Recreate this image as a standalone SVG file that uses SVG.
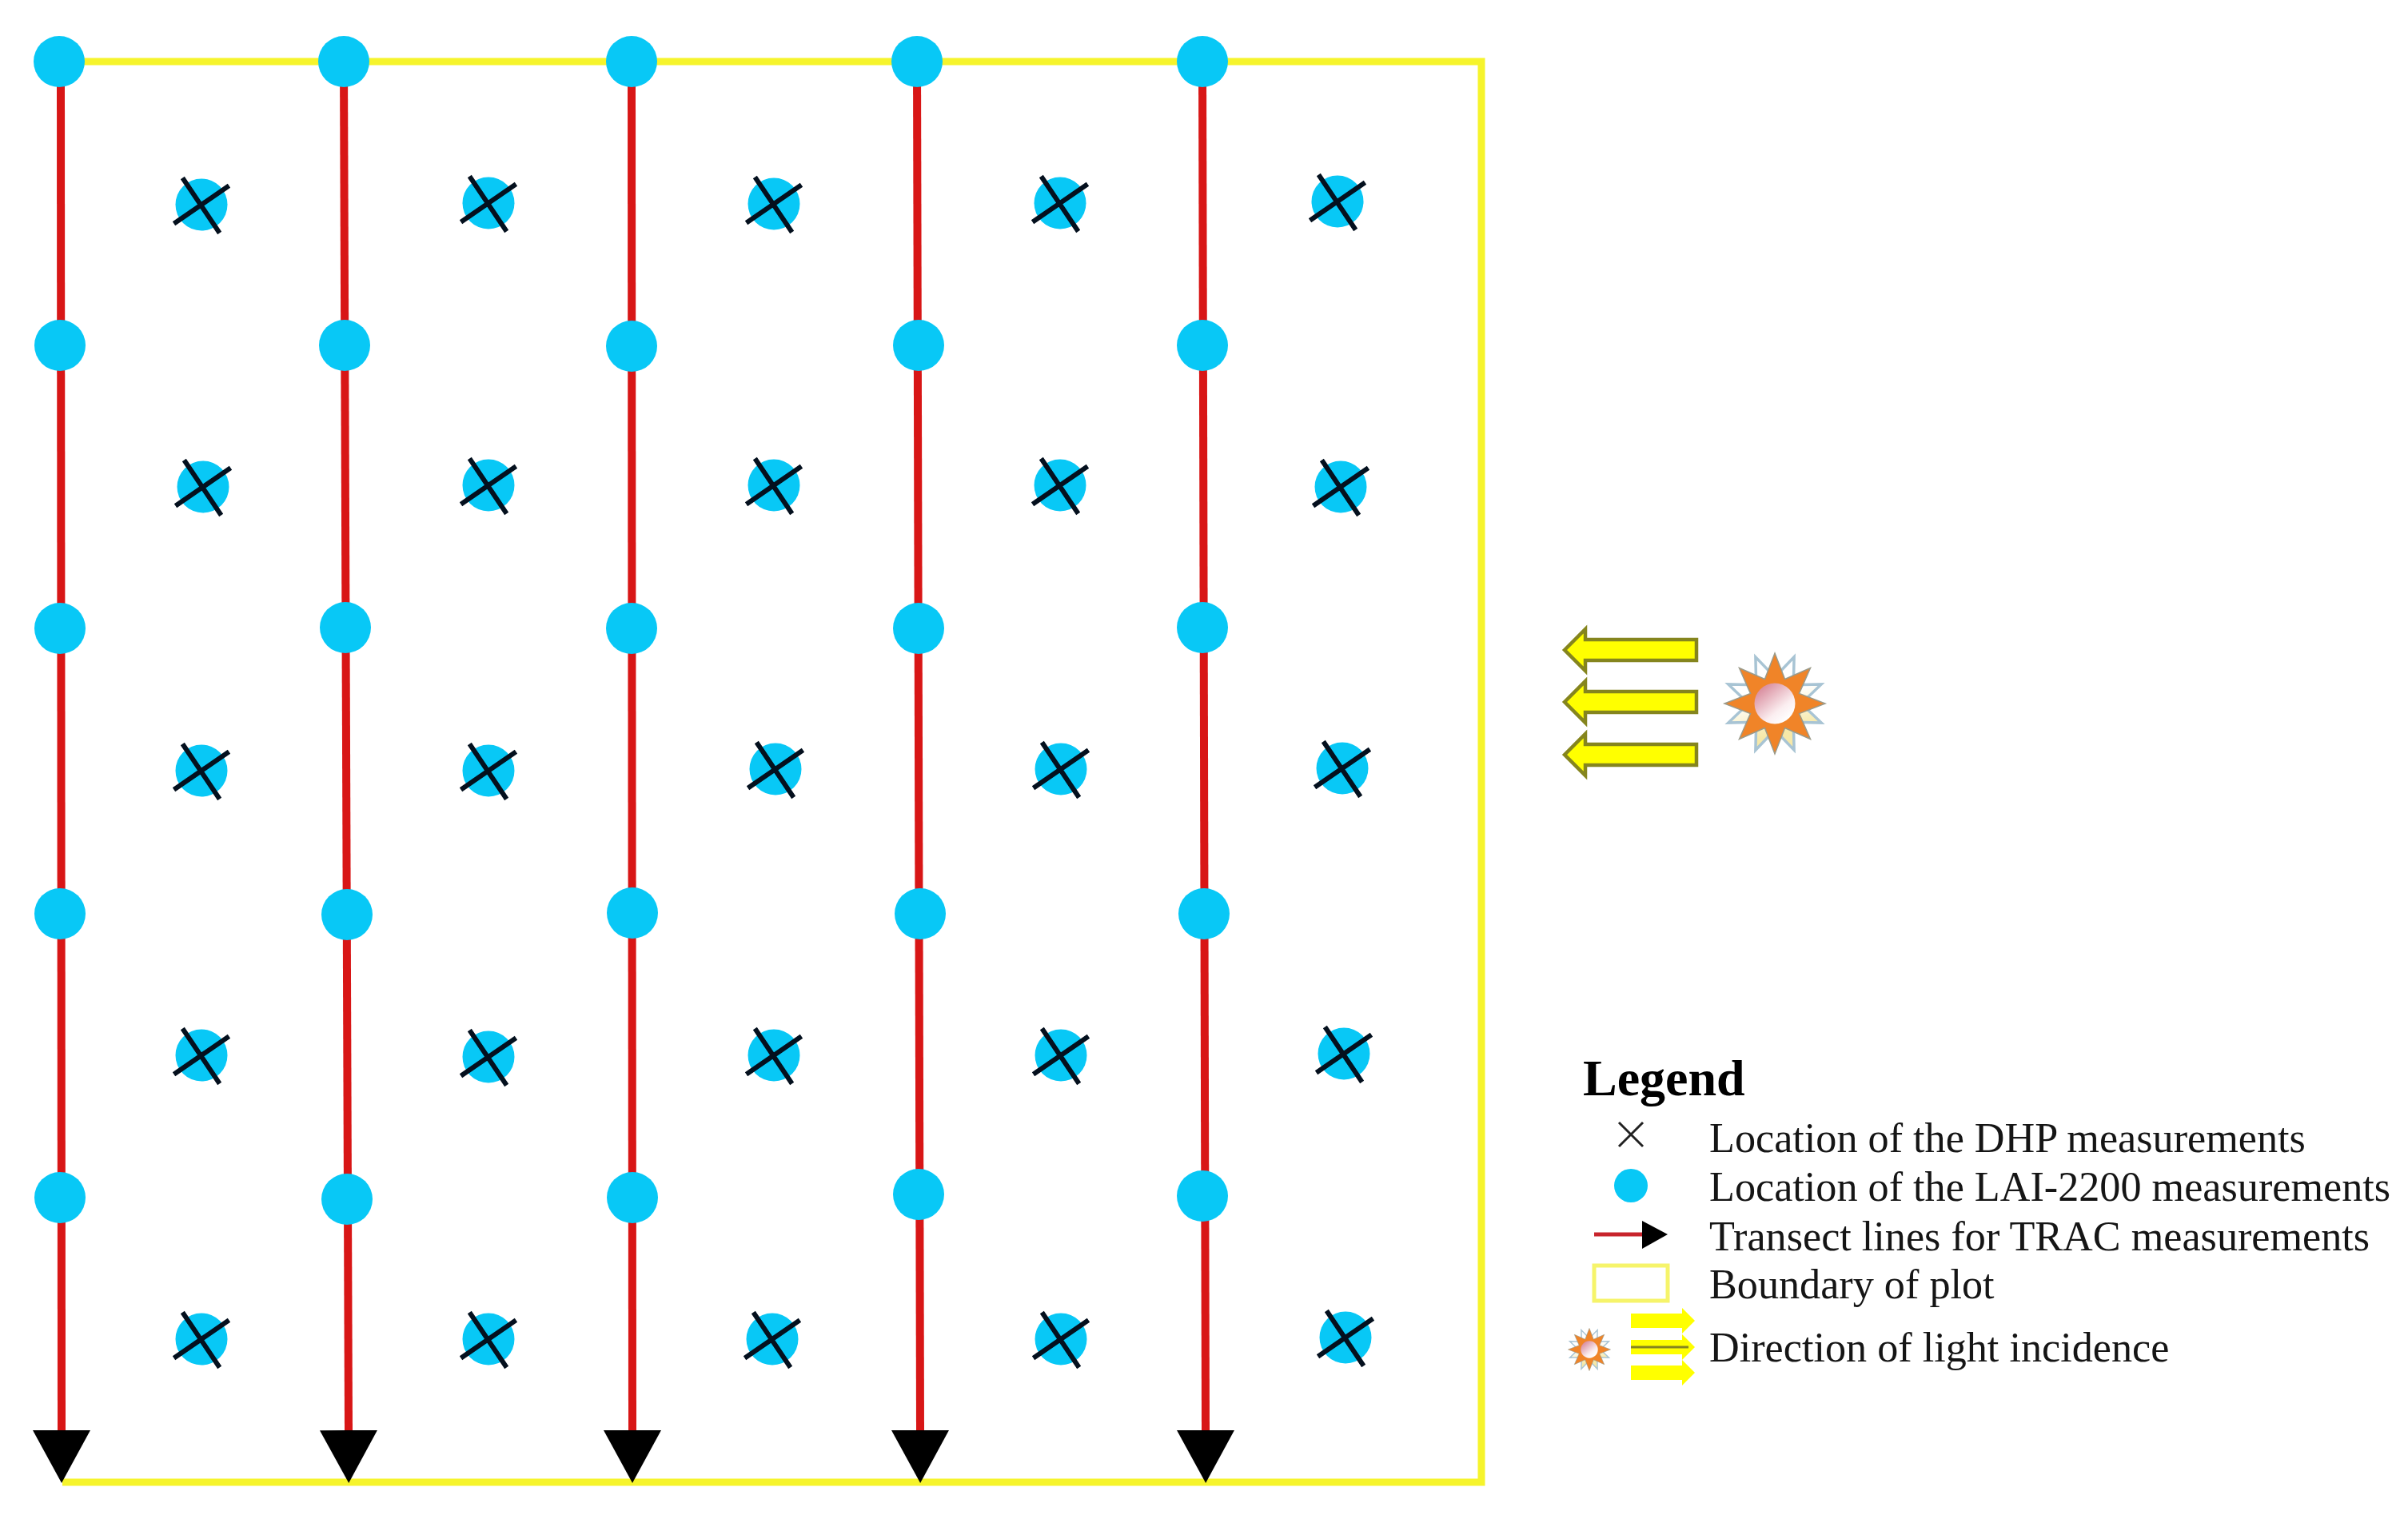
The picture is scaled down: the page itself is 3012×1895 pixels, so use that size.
<svg xmlns="http://www.w3.org/2000/svg" width="3012" height="1895" viewBox="0 0 3012 1895">
<style>
.dot{fill:#08c8f6}
.x{stroke:#04101e;stroke-width:6;fill:none;stroke-linecap:square}
.tr{stroke:#d81616;stroke-width:10;fill:none}
.bd{stroke:#f6f42c;stroke-width:9;fill:none}
.ar{fill:#ffff00;stroke:#85851e;stroke-width:4.5}
.t{font-family:"Liberation Serif","Times New Roman",serif;font-size:52.2px;fill:#151515}
.h{font-family:"Liberation Serif","Times New Roman",serif;font-size:64px;font-weight:bold;fill:#000}
</style>
<defs>
<marker id="head" markerUnits="userSpaceOnUse" markerWidth="68" markerHeight="74" refX="0" refY="37" orient="auto" viewBox="0 0 68 74"><path d="M0 1L66 37L0 73Z" fill="#000"/></marker>
<linearGradient id="disk" x1="0.15" y1="0.1" x2="0.8" y2="0.9"><stop offset="0" stop-color="#d88a9c"/><stop offset="0.7" stop-color="#fbeef0"/><stop offset="1" stop-color="#fff"/></linearGradient>
<linearGradient id="back" x1="0.2" y1="0.1" x2="0.8" y2="0.9"><stop offset="0.4" stop-color="#fff"/><stop offset="0.8" stop-color="#f6e8a8"/></linearGradient>
<g id="cell"><circle class="dot" r="32.5"/><path class="x" d="M-22-31L21 33M-32 22L32-22"/></g>
<circle id="pt" class="dot" r="32"/>
<path id="la" class="ar" d="M0 0L26-26V-13H165V13H26V26Z"/>
<g id="sunshape">
<polygon transform="rotate(22.5)" fill="url(#back)" stroke="#a8c4d4" stroke-width="3.5" points="0,-63 12.6,-30.5 44.5,-44.5 30.5,-12.6 63,0 30.5,12.6 44.5,44.5 12.6,30.5 0,63 -12.6,30.5 -44.5,44.5 -30.5,12.6 -63,0 -30.5,-12.6 -44.5,-44.5 -12.6,-30.5"/>
<polygon fill="#f08428" stroke="#9a9a8a" stroke-width="1.5" points="0,-63 12.6,-30.5 44.5,-44.5 30.5,-12.6 63,0 30.5,12.6 44.5,44.5 12.6,30.5 0,63 -12.6,30.5 -44.5,44.5 -30.5,12.6 -63,0 -30.5,-12.6 -44.5,-44.5 -12.6,-30.5"/>
<circle r="25.5" fill="url(#disk)"/>
</g>
</defs>
<rect width="3012" height="1895" fill="#fff"/>
<g id="connectors">
<path id="boundary" class="bd" d="M76 77H1853V1854H78"/>
<line class="tr" x1="76" y1="77" x2="77" y2="1789" marker-end="url(#head)"/>
<line class="tr" x1="430" y1="77" x2="436" y2="1789" marker-end="url(#head)"/>
<line class="tr" x1="790" y1="77" x2="791" y2="1789" marker-end="url(#head)"/>
<line class="tr" x1="1147" y1="77" x2="1151" y2="1789" marker-end="url(#head)"/>
<line class="tr" x1="1504" y1="77" x2="1508" y2="1789" marker-end="url(#head)"/>
</g>
<g id="lai-points">
<use href="#pt" x="74" y="77"/><use href="#pt" x="430" y="77"/><use href="#pt" x="790" y="77"/><use href="#pt" x="1147" y="77"/><use href="#pt" x="1504" y="77"/>
<use href="#pt" x="75" y="432"/><use href="#pt" x="431" y="432"/><use href="#pt" x="790" y="433"/><use href="#pt" x="1149" y="432"/><use href="#pt" x="1504" y="432"/>
<use href="#pt" x="75" y="786"/><use href="#pt" x="432" y="785"/><use href="#pt" x="790" y="786"/><use href="#pt" x="1149" y="786"/><use href="#pt" x="1504" y="785"/>
<use href="#pt" x="75" y="1143"/><use href="#pt" x="434" y="1144"/><use href="#pt" x="791" y="1142"/><use href="#pt" x="1151" y="1143"/><use href="#pt" x="1506" y="1143"/>
<use href="#pt" x="75" y="1498"/><use href="#pt" x="434" y="1500"/><use href="#pt" x="791" y="1498"/><use href="#pt" x="1149" y="1494"/><use href="#pt" x="1504" y="1496"/>
</g>
<g id="dhp-points">
<use href="#cell" x="252" y="256"/><use href="#cell" x="611" y="254"/><use href="#cell" x="968" y="255"/><use href="#cell" x="1326" y="254"/><use href="#cell" x="1673" y="252"/>
<use href="#cell" x="254" y="609"/><use href="#cell" x="611" y="607"/><use href="#cell" x="968" y="607"/><use href="#cell" x="1326" y="607"/><use href="#cell" x="1677" y="609"/>
<use href="#cell" x="252" y="964"/><use href="#cell" x="611" y="964"/><use href="#cell" x="970" y="962"/><use href="#cell" x="1327" y="962"/><use href="#cell" x="1679" y="961"/>
<use href="#cell" x="252" y="1320"/><use href="#cell" x="611" y="1322"/><use href="#cell" x="968" y="1320"/><use href="#cell" x="1327" y="1320"/><use href="#cell" x="1681" y="1318"/>
<use href="#cell" x="252" y="1675"/><use href="#cell" x="611" y="1675"/><use href="#cell" x="966" y="1675"/><use href="#cell" x="1327" y="1675"/><use href="#cell" x="1683" y="1673"/>
</g>
<g id="light-arrows">
<use href="#la" x="1957" y="813"/><use href="#la" x="1957" y="878"/><use href="#la" x="1957" y="944"/>
</g>
<g id="sun"><use href="#sunshape" transform="translate(2220 880)"/></g>
<g id="legend">
<text class="h" x="1980" y="1370">Legend</text>
<g id="legend-dhp"><path d="M2025 1404L2055 1434M2055 1404L2025 1434" stroke="#222" stroke-width="3" fill="none"/><text class="t" x="2138" y="1441">Location of the DHP measurements</text></g>
<g id="legend-lai"><ellipse class="dot" cx="2040" cy="1483" rx="21" ry="21"/><text class="t" x="2138" y="1502">Location of the LAI-2200 measurements</text></g>
<g id="legend-trac"><line x1="1994" y1="1544" x2="2056" y2="1544" stroke="#c8242c" stroke-width="5"/><path d="M2054 1527L2086 1544L2054 1562Z" fill="#000"/><text class="t" x="2138" y="1564">Transect lines for TRAC measurements</text></g>
<g id="legend-boundary"><rect x="1994" y="1583" width="92" height="44" fill="none" stroke="#f6f46a" stroke-width="5"/><text class="t" x="2138" y="1624">Boundary of plot</text></g>
<g id="legend-light"><use href="#sunshape" transform="translate(1988 1688) scale(.42)"/>
<path fill="#ffff00" d="M2040 1643H2104V1636L2120 1652L2104 1668V1661H2040Z"/>
<path fill="#ffff00" d="M2040 1676H2104V1669L2120 1685L2104 1701V1694H2040Z"/>
<path stroke="#85851e" stroke-width="3" d="M2040 1685H2112"/>
<path fill="#ffff00" d="M2040 1708H2104V1701L2120 1717L2104 1733V1726H2040Z"/>
<text class="t" x="2138" y="1703">Direction of light incidence</text></g>
</g>
</svg>
